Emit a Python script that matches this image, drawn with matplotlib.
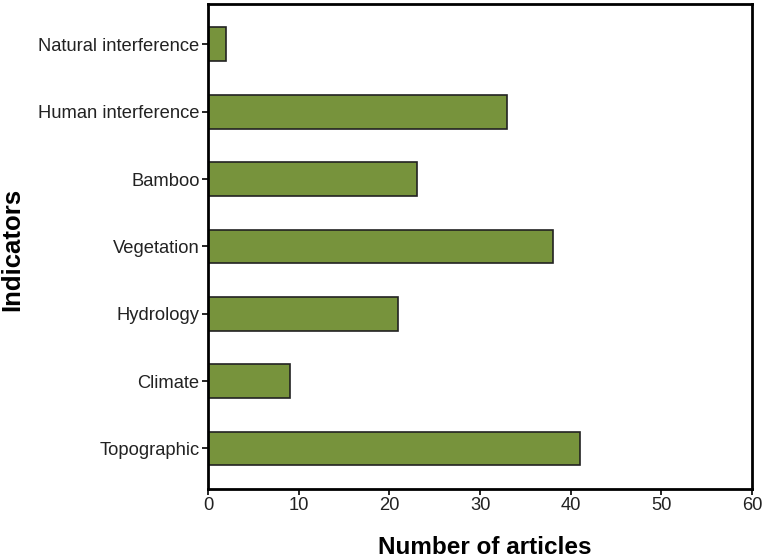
import matplotlib
matplotlib.use("Agg")
import matplotlib.pyplot as plt

# data (bottom to top)
indicators = ["Topographic", "Climate", "Hydrology", "Vegetation",
              "Bamboo", "Human interference", "Natural interference"]
articles = [41, 9, 21, 38, 23, 33, 2]

plt.rcParams['font.family'] = ['Liberation Sans', 'DejaVu Sans']

fig = plt.figure(figsize=(7.62, 5.6), dpi=100)
ax = fig.add_axes([0.273, 0.127, 0.714, 0.866])

ax.barh(range(len(indicators)), articles, height=0.5,
        color='#77933c', edgecolor='#222222', linewidth=1.2)

ax.set_yticks(range(len(indicators)))
ax.set_yticklabels(indicators)
ax.set_ylim(-0.6, len(indicators) - 0.4)
ax.set_xlim(0, 60)
ax.set_xticks([0, 10, 20, 30, 40, 50, 60])

ax.tick_params(axis='both', labelsize=13.2, labelcolor='#222222',
               length=4, width=1.2, direction='out', pad=2)
for s in ax.spines.values():
    s.set_linewidth(2)
    s.set_color('black')

ax.set_xlabel('Number of articles', fontsize=17.5, fontweight='bold')
ax.xaxis.set_label_coords(0.509, -0.098)
ax.set_ylabel('Indicators', fontsize=18.5, fontweight='bold')
ax.yaxis.set_label_coords(-0.338, 0.493)

fig.savefig('out.png', dpi=100)
